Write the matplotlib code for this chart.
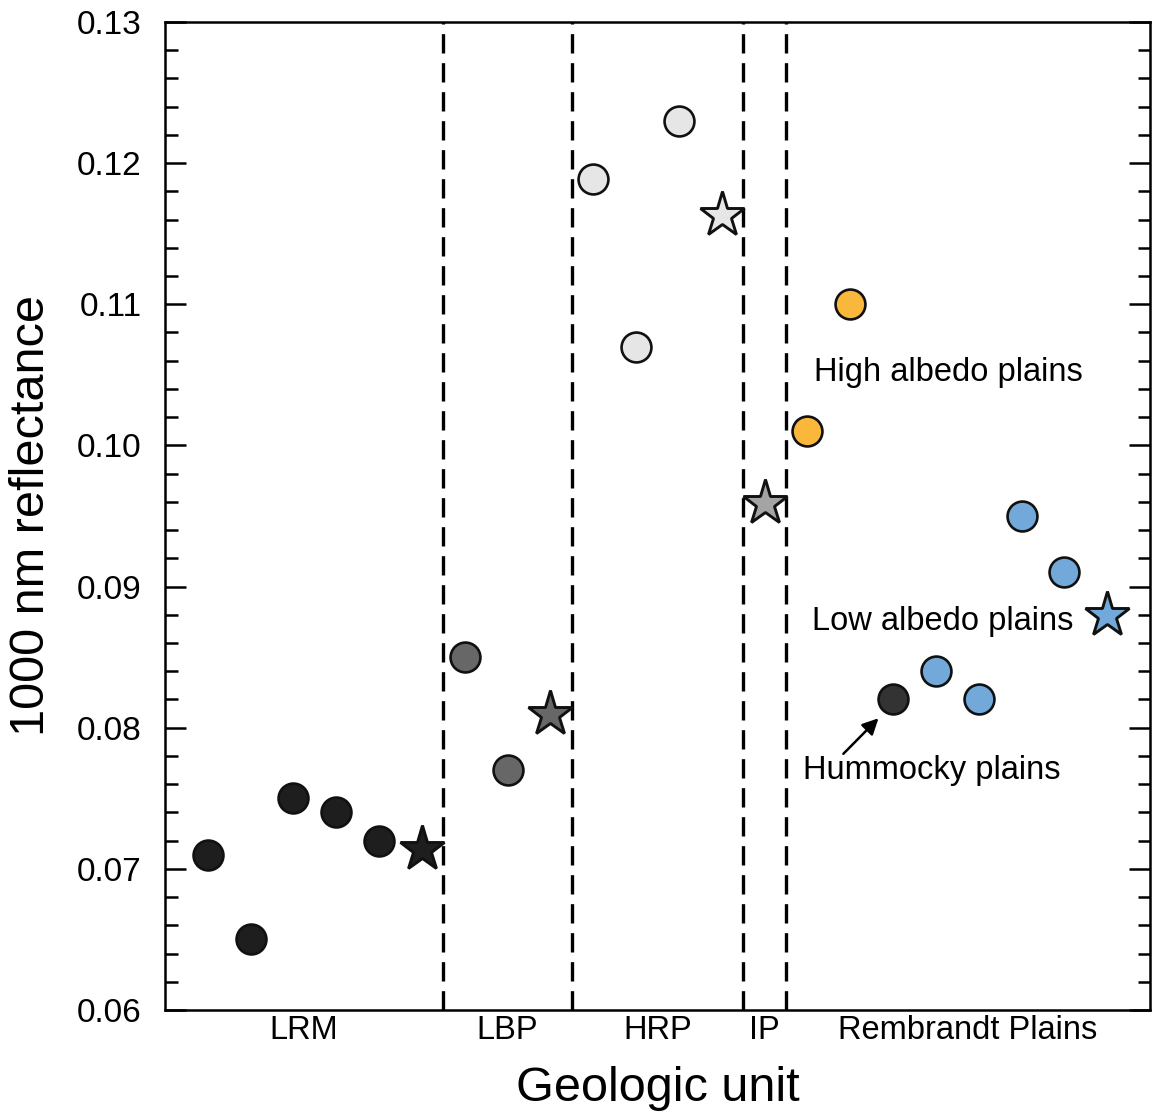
import matplotlib
matplotlib.use("Agg")
import matplotlib.pyplot as plt
from matplotlib.ticker import MultipleLocator, FormatStrFormatter
from matplotlib.transforms import blended_transform_factory

plt.rcParams['font.family'] = ['Liberation Sans', 'DejaVu Sans']

# Reflectance at 1000 nm per site, grouped by geologic unit (stars = unit mean)
lrm_pts = [0.071, 0.065, 0.075, 0.074, 0.072]
lrm_mean = 0.0714
lbp_pts = [0.085, 0.077]
lbp_mean = 0.081
hrp_pts = [0.1189, 0.107, 0.123]
hrp_mean = 0.1163
ip_mean = 0.0959
high_albedo = [0.101, 0.110]
hummocky = [0.082]
low_albedo = [0.084, 0.082, 0.095, 0.091]
low_albedo_mean = 0.088

unit_labels = ["LRM", "LBP", "HRP", "IP", "Rembrandt Plains"]
unit_bounds = [0, 6.5, 9.5, 13.5, 14.5, 23]

fig = plt.figure(figsize=(11.53, 11.2), dpi=100)
ax = fig.add_axes([0.1431, 0.0982, 0.9974 - 0.1431, 0.9804 - 0.0982])

circ = dict(marker='o', markersize=21.5, markeredgecolor='#111111',
            markeredgewidth=1.9, linestyle='none', zorder=4)
star = dict(marker='*', markersize=34, markeredgecolor='#111111',
            markeredgewidth=2.1, linestyle='none', zorder=4)

def xs(start, n):
    return list(range(start, start + n))

ax.plot(xs(1, len(lrm_pts)), lrm_pts, markerfacecolor='#1e1e1e', **circ)
ax.plot([6], [lrm_mean], markerfacecolor='#1e1e1e', **star)
ax.plot(xs(7, len(lbp_pts)), lbp_pts, markerfacecolor='#676767', **circ)
ax.plot([9], [lbp_mean], markerfacecolor='#676767', **star)
ax.plot(xs(10, len(hrp_pts)), hrp_pts, markerfacecolor='#e6e6e6', **circ)
ax.plot([13], [hrp_mean], markerfacecolor='#e6e6e6', **star)
ax.plot([14], [ip_mean], markerfacecolor='#a4a4a4', **star)
ax.plot(xs(15, len(high_albedo)), high_albedo, markerfacecolor='#f9b73c', **circ)
ax.plot(xs(17, len(hummocky)), hummocky, markerfacecolor='#333333', **circ)
ax.plot(xs(18, len(low_albedo)), low_albedo, markerfacecolor='#72a9da', **circ)
ax.plot([22], [low_albedo_mean], markerfacecolor='#72a9da', **star)

# unit separators
for xb in unit_bounds[1:-1]:
    ax.axvline(xb, color='black', lw=2.4, dashes=(5.8, 2.9), zorder=2)

ax.set_xlim(unit_bounds[0], unit_bounds[-1])
ax.set_ylim(0.06, 0.13)

ax.yaxis.set_major_locator(MultipleLocator(0.01))
ax.yaxis.set_minor_locator(MultipleLocator(0.002))
ax.yaxis.set_major_formatter(FormatStrFormatter('%.2f'))
ax.tick_params(axis='y', which='both', direction='in', left=True, right=True,
               width=1.8, labelsize=24, pad=17)
ax.tick_params(axis='y', which='major', length=15)
ax.tick_params(axis='y', which='minor', length=9)
ax.set_xticks([])
for sp in ax.spines.values():
    sp.set_linewidth(1.8)

# unit names under the axis
trans = blended_transform_factory(ax.transData, ax.transAxes)
for lab, lo, hi in zip(unit_labels, unit_bounds[:-1], unit_bounds[1:]):
    ax.text((lo + hi) / 2, -0.021, lab, transform=trans, ha='center',
            va='center', fontsize=23.5)

ax.set_ylabel("1000 nm reflectance", fontsize=35, labelpad=16)
ax.set_xlabel("Geologic unit", fontsize=35, labelpad=40)

ax.text(18.29, 0.1052, "High albedo plains", ha='center', va='center', fontsize=23.5)
ax.text(18.15, 0.08755, "Low albedo plains", ha='center', va='center', fontsize=23.5)
ax.text(17.9, 0.07700, "Hummocky plains", ha='center', va='center', fontsize=23.5)
ax.annotate("", xy=(16.66, 0.08067), xytext=(15.84, 0.07815),
            arrowprops=dict(arrowstyle='-|>', color='black', lw=1.8,
                            mutation_scale=24, shrinkA=0, shrinkB=0))

fig.savefig("out.png", dpi=100)
